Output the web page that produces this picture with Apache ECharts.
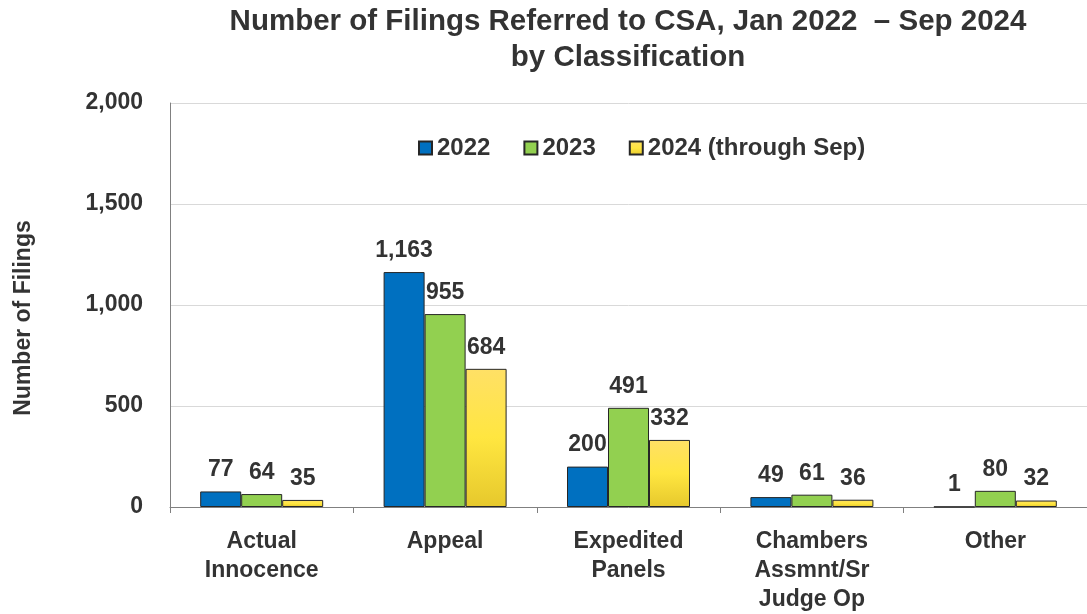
<!DOCTYPE html>
<html>
<head>
<meta charset="utf-8">
<script src="https://cdn.jsdelivr.net/npm/echarts@6/dist/echarts.min.js"></script>
<style>
  html, body { margin: 0; padding: 0; background: #fff; }
  #chart { width: 1087px; height: 614px; }
</style>
</head>
<body>
<div id="chart"></div>
<script>
// Filing classifications (x axis)
const categories = ['Actual\nInnocence', 'Appeal', 'Expedited\nPanels', 'Chambers\nAssmnt/Sr\nJudge Op', 'Other'];
// Filings per year
const seriesNames = ['2022', '2023', '2024 (through Sep)'];
const filings2022 = [77, 1163, 200, 49, 1];
const filings2023 = [64, 955, 491, 61, 80];
const filings2024 = [35, 684, 332, 36, 32];
// Value axis ticks
const yTicks = [0, 500, 1000, 1500, 2000];

const FONT = 'Liberation Sans, Arial, Helvetica, sans-serif';
const TEXT = '#333333';
const fmt = v => Number(v).toLocaleString('en-US');

const yellowFill = new echarts.graphic.LinearGradient(0, 0, 0, 1, [
  { offset: 0, color: '#FFE066' },
  { offset: 0.5, color: '#FFE640' },
  { offset: 1, color: '#E6C82C' }
]);

const fills = ['#0070C0', '#92D050', yellowFill];
const dataSets = [filings2022, filings2023, filings2024];

const chart = echarts.init(document.getElementById('chart'), null, { renderer: 'canvas' });

chart.setOption({
  backgroundColor: '#ffffff',
  animation: false,
  textStyle: { fontFamily: FONT },
  title: {
    text: 'Number of Filings Referred to CSA, Jan 2022  \u2013 Sep 2024\nby Classification',
    left: 628,
    textAlign: 'center',
    top: 4,
    padding: 0,
    textStyle: { fontFamily: FONT, fontSize: 29.5, fontWeight: 'bold', color: TEXT, lineHeight: 36 }
  },
  legend: {
    data: seriesNames,
    left: 418,
    top: 136,
    padding: 0,
    icon: 'rect',
    itemWidth: 13,
    itemHeight: 13,
    itemGap: 33,
    textStyle: { fontFamily: FONT, fontSize: 24, fontWeight: 'bold', color: TEXT }
  },
  grid: { left: 170, width: 923, top: 103, bottom: 107, containLabel: false },
  xAxis: {
    type: 'category',
    data: categories,
    axisLine: { lineStyle: { color: '#808080', width: 1 } },
    axisTick: { show: true, length: 6, lineStyle: { color: '#808080' } },
    axisLabel: {
      margin: 20,
      fontFamily: FONT, fontSize: 23, fontWeight: 'bold', color: TEXT, lineHeight: 29,
      interval: 0
    }
  },
  yAxis: {
    type: 'value',
    min: yTicks[0],
    max: yTicks[yTicks.length - 1],
    interval: yTicks[1] - yTicks[0],
    name: 'Number of Filings',
    nameLocation: 'middle',
    nameGap: 135,
    nameTextStyle: { fontFamily: FONT, fontSize: 23, fontWeight: 'bold', color: TEXT, padding: [0, 26, 0, 0] },
    axisLine: { show: true, lineStyle: { color: '#808080', width: 1 } },
    axisTick: { show: false },
    splitLine: { lineStyle: { color: '#D9D9D9', width: 1 } },
    axisLabel: {
      margin: 27,
      fontFamily: FONT, fontSize: 23, fontWeight: 'bold', color: TEXT,
      formatter: fmt
    }
  },
  series: seriesNames.map((name, i) => ({
    name,
    type: 'bar',
    data: dataSets[i],
    barWidth: 41,
    barGap: '0%',
    itemStyle: { color: fills[i], borderColor: '#262626', borderWidth: 1 },
    label: {
      show: true,
      position: 'top',
      distance: 10,
      fontFamily: FONT, fontSize: 23, fontWeight: 'bold', color: TEXT,
      formatter: p => fmt(p.value)
    }
  }))
});
</script>
</body>
</html>
